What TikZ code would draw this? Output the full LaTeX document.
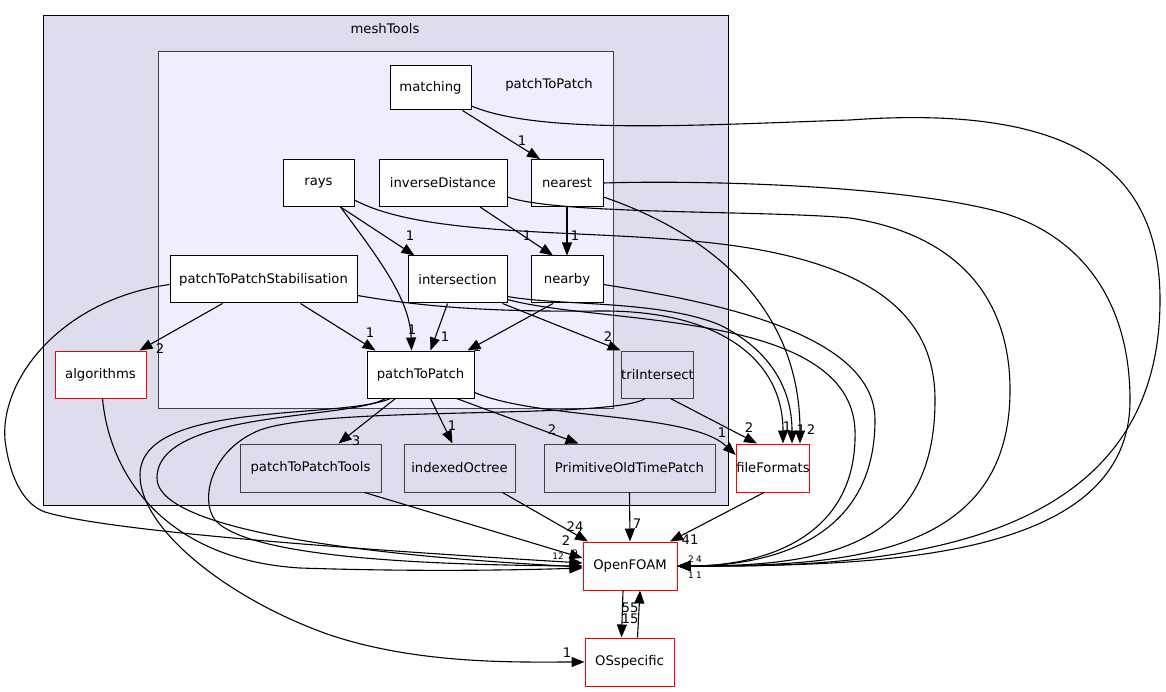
\documentclass[tikz,border=0pt]{standalone}
\usepackage{fontspec}
\setmainfont{DejaVu Sans}
\usetikzlibrary{arrows.meta}
\definecolor{outerfill}{HTML}{DDDDEE}
\definecolor{innerfill}{HTML}{EEEEFF}

\begin{document}
\begin{tikzpicture}[x=1pt,y=-1pt,
dirnode/.style={draw=black, fill=white, line width=1pt, minimum height=47pt, inner sep=0pt, font=\fontsize{13.2}{15}\selectfont},
graynode/.style={dirnode, draw=black!75, fill=outerfill},
rednode/.style={dirnode, draw=red},
lbl/.style={font=\fontsize{13.2}{15}\selectfont, inner sep=0pt},
tinylbl/.style={lbl, font=\fontsize{9}{10}\selectfont},
dep/.style={line width=1.1pt, -{Triangle[length=13pt,width=10pt]}},
]
    \useasboundingbox (0,0) rectangle (1166,692);

    % clusters
    \draw[fill=outerfill, draw=black, line width=1pt] (43,16) rectangle (728,505);
    \node[lbl] (meshToolsLbl) at (385,29) {meshTools};
    \draw[fill=innerfill, draw=black!75, line width=1pt] (158,52) rectangle (613,408);
    \node[lbl] (patchToPatchLbl) at (549,85) {patchToPatch};

    % directories
    \node[dirnode, minimum width=81pt, minimum height=44pt] (matching) at (430.5,88) {matching};
    \node[dirnode, minimum width=71pt] (rays) at (318.5,183) {rays};
    \node[dirnode, minimum width=128pt] (inverseDistance) at (443,183) {inverseDistance};
    \node[dirnode, minimum width=72pt] (nearest) at (567,183) {nearest};
    \node[dirnode, minimum width=187pt] (stabilisation) at (263.5,279.5) {patchToPatchStabilisation};
    \node[dirnode, minimum width=99pt] (intersection) at (457.5,279.5) {intersection};
    \node[dirnode, minimum width=72pt] (nearby) at (567,279.5) {nearby};
    \node[dirnode, minimum width=107pt] (patchToPatch) at (420.5,374.5) {patchToPatch};
    \node[graynode, minimum width=67pt] (triIntersect) at (657.5,374.5) {triIntersect};
    \node[rednode, minimum width=91pt] (algorithms) at (100.5,374.5) {algorithms};
    \node[graynode, minimum width=141pt, minimum height=48pt] (patchToPatchTools) at (310.5,468) {patchToPatchTools};
    \node[graynode, minimum width=111pt, minimum height=48pt] (indexedOctree) at (459.5,468) {indexedOctree};
    \node[graynode, minimum width=171pt, minimum height=48pt] (oldTimePatch) at (629.5,468) {PrimitiveOldTimePatch};
    \node[rednode, minimum width=68pt, minimum height=48pt] (fileFormats) at (773,468) {fileFormats};
    \node[rednode, minimum width=94pt, minimum height=48pt] (OpenFOAM) at (630,566) {OpenFOAM};
    \node[rednode, minimum width=89pt, minimum height=48pt] (OSspecific) at (629.5,662) {OSspecific};

    % inside patchToPatch
    \draw[dep] ([xshift=32pt]matching.south) -- ([xshift=-27pt]nearest.north) node[lbl] (l1) at (522,141) {1};
    \draw[dep] (nearest.south) -- (nearby.north) node[lbl] (l2) at (575,236) {1};
    \draw[dep] ([xshift=37pt]inverseDistance.south) -- ([xshift=-14pt]nearby.north) node[lbl] (l3) at (527,236) {1};
    \draw[dep] ([xshift=22pt]rays.south) -- ([xshift=-43pt]intersection.north) node[lbl] (l4) at (410,236) {1};
    \draw[dep] ([xshift=22pt]rays.south) .. controls (380,260) and (410,300) .. ([xshift=-9pt]patchToPatch.north) node[lbl] (l5) at (412,330) {1};
    \draw[dep] ([xshift=-41pt]stabilisation.south) -- ([xshift=39pt]algorithms.north) node[lbl] (l6) at (160,349) {2};
    \draw[dep] ([xshift=37pt]stabilisation.south) -- ([xshift=-45pt]patchToPatch.north) node[lbl] (l7) at (370,333) {1};
    \draw[dep] ([xshift=-10pt]intersection.south) -- ([xshift=10pt]patchToPatch.north) node[lbl] (l8) at (445,337) {1};
    \draw[dep] ([xshift=-5pt]intersection.south east) -- (triIntersect.north west) node[lbl] (l9) at (608,337) {2};
    \draw[dep] ([xshift=-14pt]nearby.south) -- ([xshift=47pt]patchToPatch.north) node[lbl] (l10) at (477,347) {1};

    % towards fileFormats
    \draw[dep] ([yshift=-14pt]nearest.east) .. controls (700,230) and (800,300) .. ([xshift=27pt]fileFormats.north) node[lbl] (l11) at (811,430) {2};
    \draw[dep] ([yshift=-16pt]stabilisation.east) .. controls (430,308) and (500,312) .. (600,311) .. controls (720,310) and (783,360) .. ([xshift=10pt]fileFormats.north) node[lbl] (l12) at (787,427) {1};
    \draw[dep] ([yshift=-17pt]intersection.east) .. controls (560,306) and (660,300) .. (720,325) .. controls (780,355) and (792,400) .. ([xshift=19pt]fileFormats.north) node[lbl] (l13) at (801,430) {1};
    \draw[dep] ([yshift=-18pt]patchToPatch.east) .. controls (540,420) and (690,412) .. ([yshift=13pt]fileFormats.west) node[lbl] (l14) at (722,433) {1};
    \draw[dep] ([xshift=13pt]triIntersect.south) -- ([xshift=-16pt]fileFormats.north) node[lbl] (l15) at (749,428) {2};

    % below patchToPatch
    \draw[dep] ([xshift=-25pt]patchToPatch.south) -- ([xshift=28pt]patchToPatchTools.north) node[lbl] (l16) at (356,441) {3};
    \draw[dep] ([xshift=10pt]patchToPatch.south) -- ([xshift=-7pt]indexedOctree.north) node[lbl] (l17) at (452,426) {1};
    \draw[dep] ([xshift=36pt]patchToPatch.south) -- ([xshift=-51pt]oldTimePatch.north) node[lbl] (l18) at (552,430) {2};

    % into OpenFOAM from the right
    \draw[dep] ([yshift=-18pt]matching.east) .. controls (540,135) and (700,125) .. (850,120) .. controls (1060,105) and (1160,160) .. (1160,300) .. controls (1160,545) and (900,568) .. (OpenFOAM.east);
    \draw[dep] (nearest.east) .. controls (700,180) and (900,185) .. (1000,212) .. controls (1080,235) and (1130,300) .. (1130,400) .. controls (1130,560) and (880,566) .. (OpenFOAM.east);
    \draw[dep] ([yshift=-14pt]inverseDistance.east) .. controls (560,215) and (760,210) .. (850,218) .. controls (960,235) and (1010,300) .. (1010,390) .. controls (1010,555) and (850,566) .. (OpenFOAM.east);
    \draw[dep] ([yshift=-17pt]rays.east) .. controls (420,235) and (560,230) .. (680,240) .. controls (880,255) and (935,320) .. (935,400) .. controls (935,550) and (820,566) .. (OpenFOAM.east);
    \draw[dep] ([yshift=-5pt]nearby.east) .. controls (700,300) and (875,330) .. (875,420) .. controls (875,540) and (770,566) .. (OpenFOAM.east);
    \draw[dep] ([yshift=-20pt]intersection.east) .. controls (600,325) and (850,310) .. (855,430) .. controls (858,540) and (760,566) .. (OpenFOAM.east);
    \node[tinylbl] (r1) at (691,559) {2};
    \node[tinylbl] (r2) at (699,559) {4};
    \node[tinylbl] (r3) at (691,575) {1};
    \node[tinylbl] (r4) at (699,575) {1};

    % into OpenFOAM from the left
    \draw[dep] ([yshift=-5pt]stabilisation.west) .. controls (60,300) and (0,380) .. (5,440) .. controls (10,480) and (25,505) .. (45,512) .. controls (120,535) and (450,555) .. ([yshift=3pt]OpenFOAM.west);
    \draw[dep] ([xshift=2pt]algorithms.south) .. controls (110,480) and (170,560) .. (300,568) .. controls (420,572) and (520,570) .. ([yshift=-2pt]OpenFOAM.west);
    \draw[dep] ([xshift=-35pt]patchToPatch.south) .. controls (350,420) and (157,410) .. (157,478) .. controls (157,540) and (450,560) .. ([yshift=-1pt]OpenFOAM.west);
    \draw[dep] ([xshift=-12pt]triIntersect.south) .. controls (610,420) and (330,405) .. (260,430) .. controls (210,450) and (200,500) .. (215,520) .. controls (250,560) and (450,565) .. (OpenFOAM.west);
    \draw[dep] ([xshift=54pt]patchToPatchTools.south) -- ([yshift=8pt]OpenFOAM.west) node[lbl] (l19) at (566,541) {2};
    \node[tinylbl] (q1) at (575,553) {9};
    \node[tinylbl] (q2) at (558,556) {12};
    \node[tinylbl] (q3) at (574,564) {84};
    \draw[dep] ([xshift=43pt]indexedOctree.south) -- ([xshift=-42pt]OpenFOAM.north) node[lbl] (l20) at (575,527) {24};
    \draw[dep] (oldTimePatch.south) -- (OpenFOAM.north) node[lbl] (l21) at (637,524) {7};
    \draw[dep] ([xshift=-9pt]fileFormats.south) -- ([xshift=40pt]OpenFOAM.north) node[lbl] (l22) at (690,540) {41};

    % OSspecific
    \draw[dep] ([xshift=-30pt]patchToPatch.south) .. controls (340,420) and (140,400) .. (140,475) .. controls (140,530) and (230,600) .. (330,635) .. controls (420,665) and (520,662) .. (OSspecific.west) node[lbl] (l23) at (567,653) {1};
    \draw[dep] ([xshift=-7pt]OpenFOAM.south) -- ([xshift=-8pt]OSspecific.north) node[lbl] (l24) at (630,608) {55};
    \draw[dep] ([xshift=8pt]OSspecific.north) -- ([xshift=10pt]OpenFOAM.south) node[lbl] (l25) at (630,619) {15};
\end{tikzpicture}
\end{document}
